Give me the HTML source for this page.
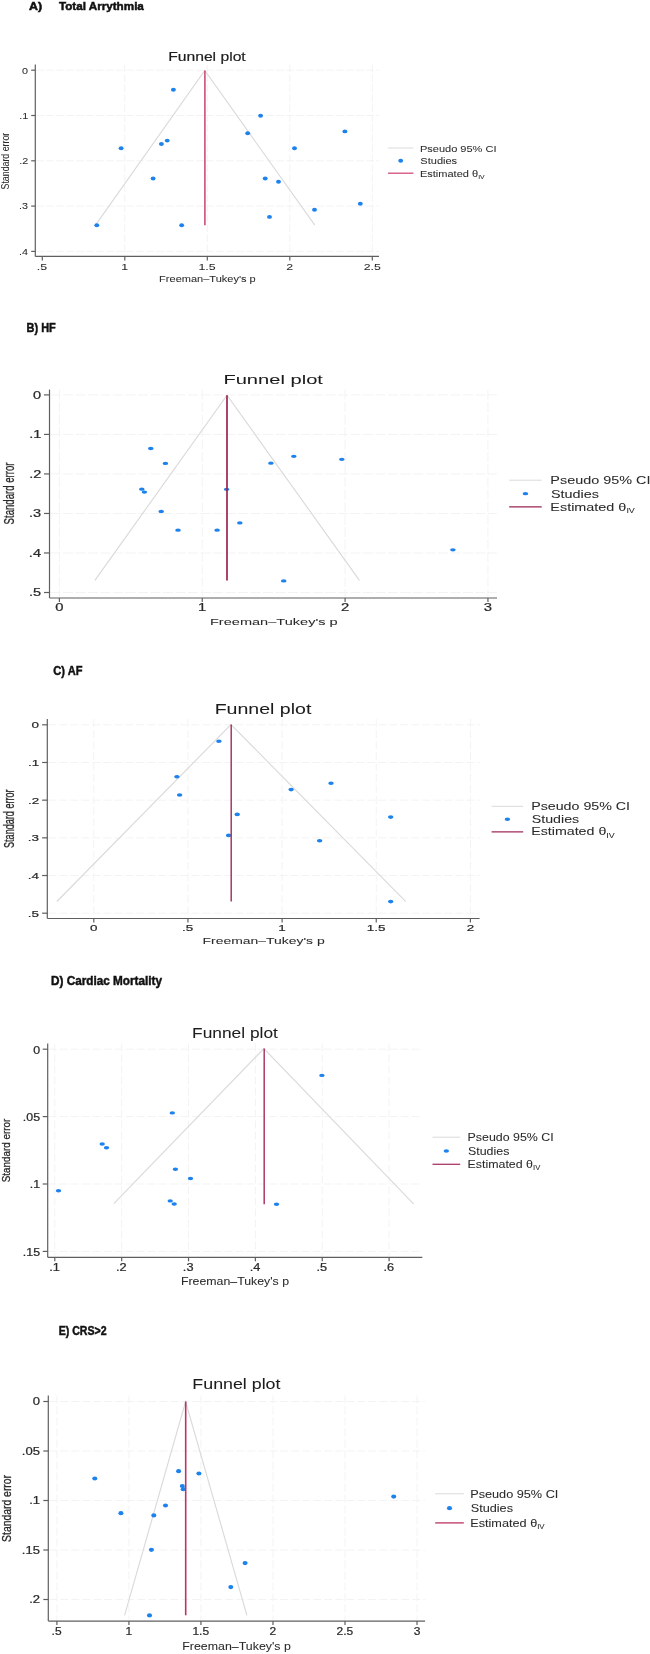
<!DOCTYPE html>
<html><head><meta charset="utf-8"><title>Funnel plots</title>
<style>
html,body{margin:0;padding:0;background:#fff;}
body{width:650px;height:1654px;overflow:hidden;}
svg{display:block;font-family:"Liberation Sans", sans-serif;filter:blur(0.6px);}
text{stroke:#2a2a2a;stroke-width:0.05px;}
text.tl{stroke-width:0.22px;}
text.yt{stroke-width:0.3px;}
.pA text{stroke-width:0.05px;}
text.hd{stroke:#111;stroke-width:0.5px;}
.pA text.ti{stroke-width:0.2px;}
</style></head><body>
<svg width="650" height="1654" viewBox="0 0 650 1654">
<rect width="650" height="1654" fill="#ffffff"/>
<g class="pA">
<text class="hd" transform="translate(28.95,9.80) scale(1.0903,1)" font-size="11.37" font-weight="bold" fill="#111">A)</text>
<text class="hd" transform="translate(58.88,9.80) scale(1.0285,1)" font-size="11.37" font-weight="bold" fill="#111">Total Arrythmia</text>
<text class="ti" transform="translate(168.14,60.60) scale(1.1807,1)" font-size="13.29" fill="#1c1c1c">Funnel plot</text>
<line x1="36.30" y1="70.20" x2="379.00" y2="70.20" stroke="#f3f3f3" stroke-width="1" stroke-dasharray="7.5 2.5"/>
<line x1="36.30" y1="115.50" x2="379.00" y2="115.50" stroke="#f3f3f3" stroke-width="1" stroke-dasharray="7.5 2.5"/>
<line x1="36.30" y1="160.80" x2="379.00" y2="160.80" stroke="#f3f3f3" stroke-width="1" stroke-dasharray="7.5 2.5"/>
<line x1="36.30" y1="206.10" x2="379.00" y2="206.10" stroke="#f3f3f3" stroke-width="1" stroke-dasharray="7.5 2.5"/>
<line x1="36.30" y1="251.40" x2="379.00" y2="251.40" stroke="#f3f3f3" stroke-width="1" stroke-dasharray="7.5 2.5"/>
<line x1="124.80" y1="64.60" x2="124.80" y2="255.40" stroke="#f3f3f3" stroke-width="1" stroke-dasharray="7.5 2.5"/>
<line x1="207.30" y1="64.60" x2="207.30" y2="255.40" stroke="#f3f3f3" stroke-width="1" stroke-dasharray="7.5 2.5"/>
<line x1="289.80" y1="64.60" x2="289.80" y2="255.40" stroke="#f3f3f3" stroke-width="1" stroke-dasharray="7.5 2.5"/>
<line x1="372.30" y1="64.60" x2="372.30" y2="255.40" stroke="#f3f3f3" stroke-width="1" stroke-dasharray="7.5 2.5"/>
<polyline points="95.50,225.20 204.80,70.50 314.80,225.20" fill="none" stroke="#dadada" stroke-width="1.15"/>
<ellipse cx="173.40" cy="89.80" rx="2.45" ry="1.95" fill="#1e82ec"/>
<ellipse cx="121.10" cy="148.30" rx="2.45" ry="1.95" fill="#1e82ec"/>
<ellipse cx="161.40" cy="144.00" rx="2.45" ry="1.95" fill="#1e82ec"/>
<ellipse cx="167.20" cy="140.60" rx="2.45" ry="1.95" fill="#1e82ec"/>
<ellipse cx="153.10" cy="178.50" rx="2.45" ry="1.95" fill="#1e82ec"/>
<ellipse cx="96.80" cy="225.20" rx="2.45" ry="1.95" fill="#1e82ec"/>
<ellipse cx="181.70" cy="225.20" rx="2.45" ry="1.95" fill="#1e82ec"/>
<ellipse cx="260.60" cy="115.70" rx="2.45" ry="1.95" fill="#1e82ec"/>
<ellipse cx="247.70" cy="133.20" rx="2.45" ry="1.95" fill="#1e82ec"/>
<ellipse cx="344.90" cy="131.40" rx="2.45" ry="1.95" fill="#1e82ec"/>
<ellipse cx="294.50" cy="148.30" rx="2.45" ry="1.95" fill="#1e82ec"/>
<ellipse cx="265.20" cy="178.50" rx="2.45" ry="1.95" fill="#1e82ec"/>
<ellipse cx="278.50" cy="181.80" rx="2.45" ry="1.95" fill="#1e82ec"/>
<ellipse cx="314.50" cy="209.80" rx="2.45" ry="1.95" fill="#1e82ec"/>
<ellipse cx="360.30" cy="203.70" rx="2.45" ry="1.95" fill="#1e82ec"/>
<ellipse cx="269.50" cy="216.90" rx="2.45" ry="1.95" fill="#1e82ec"/>
<line x1="204.90" y1="70.50" x2="204.90" y2="225.20" stroke="#d04c7a" stroke-width="1.6"/>
<line x1="35.30" y1="64.60" x2="35.30" y2="256.40" stroke="#5f5f5f" stroke-width="1.2"/>
<line x1="35.30" y1="256.40" x2="379.00" y2="256.40" stroke="#5f5f5f" stroke-width="1.2"/>
<line x1="31.20" y1="70.20" x2="35.30" y2="70.20" stroke="#5f5f5f" stroke-width="1.2"/>
<text class="tl" transform="translate(22.09,73.59) scale(1.1155,1)" font-size="9.68" fill="#2a2a2a">0</text>
<line x1="31.20" y1="115.50" x2="35.30" y2="115.50" stroke="#5f5f5f" stroke-width="1.2"/>
<text class="tl" transform="translate(19.19,118.84) scale(1.1155,1)" font-size="9.68" fill="#2a2a2a">.1</text>
<line x1="31.20" y1="160.80" x2="35.30" y2="160.80" stroke="#5f5f5f" stroke-width="1.2"/>
<text class="tl" transform="translate(19.19,164.19) scale(1.1155,1)" font-size="9.68" fill="#2a2a2a">.2</text>
<line x1="31.20" y1="206.10" x2="35.30" y2="206.10" stroke="#5f5f5f" stroke-width="1.2"/>
<text class="tl" transform="translate(19.08,209.49) scale(1.1155,1)" font-size="9.68" fill="#2a2a2a">.3</text>
<line x1="31.20" y1="251.40" x2="35.30" y2="251.40" stroke="#5f5f5f" stroke-width="1.2"/>
<text class="tl" transform="translate(18.98,254.79) scale(1.1155,1)" font-size="9.68" fill="#2a2a2a">.4</text>
<line x1="42.30" y1="256.40" x2="42.30" y2="260.40" stroke="#5f5f5f" stroke-width="1.2"/>
<text class="tl" transform="translate(36.82,270.00) scale(1.2610,1)" font-size="9.79" fill="#2a2a2a">.5</text>
<line x1="124.80" y1="256.40" x2="124.80" y2="260.40" stroke="#5f5f5f" stroke-width="1.2"/>
<text class="tl" transform="translate(121.22,270.00) scale(1.2610,1)" font-size="9.79" fill="#2a2a2a">1</text>
<line x1="207.30" y1="256.40" x2="207.30" y2="260.40" stroke="#5f5f5f" stroke-width="1.2"/>
<text class="tl" transform="translate(198.51,270.00) scale(1.2610,1)" font-size="9.79" fill="#2a2a2a">1.5</text>
<line x1="289.80" y1="256.40" x2="289.80" y2="260.40" stroke="#5f5f5f" stroke-width="1.2"/>
<text class="tl" transform="translate(286.34,270.00) scale(1.2610,1)" font-size="9.79" fill="#2a2a2a">2</text>
<line x1="372.30" y1="256.40" x2="372.30" y2="260.40" stroke="#5f5f5f" stroke-width="1.2"/>
<text class="tl" transform="translate(363.63,270.00) scale(1.2610,1)" font-size="9.79" fill="#2a2a2a">2.5</text>
<text class="yt" transform="translate(9.30,189.45) rotate(-90) scale(0.7651,1)" font-size="11.51" fill="#2a2a2a">Standard error</text>
<text transform="translate(159.12,282.30) scale(1.1336,1)" font-size="9.73" fill="#2a2a2a">Freeman–Tukey's p</text>
<line x1="388.00" y1="148.00" x2="413.40" y2="148.00" stroke="#dadada" stroke-width="1"/>
<ellipse cx="400.70" cy="160.70" rx="2.45" ry="1.95" fill="#1e82ec"/>
<line x1="388.00" y1="173.20" x2="413.40" y2="173.20" stroke="#d04c7a" stroke-width="1.3"/>
<text transform="translate(419.92,151.60) scale(1.1500,1)" font-size="9.60" fill="#2a2a2a">Pseudo 95% CI</text>
<text transform="translate(420.36,164.30) scale(1.1500,1)" font-size="9.60" fill="#2a2a2a">Studies</text>
<text transform="translate(419.92,176.80) scale(1.1500,1)" font-size="9.60" fill="#2a2a2a">Estimated θ<tspan font-size="5.95" dy="2.11">IV</tspan></text>
</g>
<g class="pB">
<text class="hd" transform="translate(26.54,331.90) scale(0.8689,1)" font-size="12.60" font-weight="bold" fill="#111">B) HF</text>
<text class="ti" transform="translate(223.39,383.70) scale(1.5145,1)" font-size="13.29" fill="#1c1c1c">Funnel plot</text>
<line x1="50.50" y1="394.90" x2="497.00" y2="394.90" stroke="#f3f3f3" stroke-width="1" stroke-dasharray="10 2.5"/>
<line x1="50.50" y1="434.42" x2="497.00" y2="434.42" stroke="#f3f3f3" stroke-width="1" stroke-dasharray="10 2.5"/>
<line x1="50.50" y1="473.94" x2="497.00" y2="473.94" stroke="#f3f3f3" stroke-width="1" stroke-dasharray="10 2.5"/>
<line x1="50.50" y1="513.46" x2="497.00" y2="513.46" stroke="#f3f3f3" stroke-width="1" stroke-dasharray="10 2.5"/>
<line x1="50.50" y1="552.98" x2="497.00" y2="552.98" stroke="#f3f3f3" stroke-width="1" stroke-dasharray="10 2.5"/>
<line x1="50.50" y1="592.50" x2="497.00" y2="592.50" stroke="#f3f3f3" stroke-width="1" stroke-dasharray="10 2.5"/>
<line x1="59.40" y1="389.60" x2="59.40" y2="597.00" stroke="#f3f3f3" stroke-width="1" stroke-dasharray="10 2.5"/>
<line x1="202.25" y1="389.60" x2="202.25" y2="597.00" stroke="#f3f3f3" stroke-width="1" stroke-dasharray="10 2.5"/>
<line x1="345.10" y1="389.60" x2="345.10" y2="597.00" stroke="#f3f3f3" stroke-width="1" stroke-dasharray="10 2.5"/>
<line x1="487.95" y1="389.60" x2="487.95" y2="597.00" stroke="#f3f3f3" stroke-width="1" stroke-dasharray="10 2.5"/>
<polyline points="94.90,580.30 227.00,395.20 359.40,580.30" fill="none" stroke="#dadada" stroke-width="1.15"/>
<ellipse cx="150.80" cy="448.50" rx="2.8" ry="1.65" fill="#1e82ec"/>
<ellipse cx="165.40" cy="463.40" rx="2.8" ry="1.65" fill="#1e82ec"/>
<ellipse cx="141.80" cy="489.20" rx="2.8" ry="1.65" fill="#1e82ec"/>
<ellipse cx="144.40" cy="492.10" rx="2.8" ry="1.65" fill="#1e82ec"/>
<ellipse cx="226.60" cy="489.30" rx="2.8" ry="1.65" fill="#1e82ec"/>
<ellipse cx="161.20" cy="511.50" rx="2.8" ry="1.65" fill="#1e82ec"/>
<ellipse cx="178.00" cy="530.20" rx="2.8" ry="1.65" fill="#1e82ec"/>
<ellipse cx="217.10" cy="530.20" rx="2.8" ry="1.65" fill="#1e82ec"/>
<ellipse cx="239.80" cy="522.90" rx="2.8" ry="1.65" fill="#1e82ec"/>
<ellipse cx="270.90" cy="463.20" rx="2.8" ry="1.65" fill="#1e82ec"/>
<ellipse cx="293.80" cy="456.30" rx="2.8" ry="1.65" fill="#1e82ec"/>
<ellipse cx="341.80" cy="459.30" rx="2.8" ry="1.65" fill="#1e82ec"/>
<ellipse cx="283.70" cy="580.90" rx="2.8" ry="1.65" fill="#1e82ec"/>
<ellipse cx="452.90" cy="549.80" rx="2.8" ry="1.65" fill="#1e82ec"/>
<line x1="227.00" y1="395.20" x2="227.00" y2="580.50" stroke="#9a2452" stroke-width="1.7"/>
<line x1="49.50" y1="389.60" x2="49.50" y2="598.00" stroke="#5f5f5f" stroke-width="1.2"/>
<line x1="49.50" y1="598.00" x2="497.00" y2="598.00" stroke="#5f5f5f" stroke-width="1.2"/>
<line x1="44.00" y1="394.90" x2="49.50" y2="394.90" stroke="#5f5f5f" stroke-width="1.2"/>
<text class="tl" transform="translate(33.04,398.60) scale(1.3774,1)" font-size="10.56" fill="#2a2a2a">0</text>
<line x1="44.00" y1="434.42" x2="49.50" y2="434.42" stroke="#5f5f5f" stroke-width="1.2"/>
<text class="tl" transform="translate(29.14,438.06) scale(1.3774,1)" font-size="10.56" fill="#2a2a2a">.1</text>
<line x1="44.00" y1="473.94" x2="49.50" y2="473.94" stroke="#5f5f5f" stroke-width="1.2"/>
<text class="tl" transform="translate(29.14,477.64) scale(1.3774,1)" font-size="10.56" fill="#2a2a2a">.2</text>
<line x1="44.00" y1="513.46" x2="49.50" y2="513.46" stroke="#5f5f5f" stroke-width="1.2"/>
<text class="tl" transform="translate(29.00,517.16) scale(1.3774,1)" font-size="10.56" fill="#2a2a2a">.3</text>
<line x1="44.00" y1="552.98" x2="49.50" y2="552.98" stroke="#5f5f5f" stroke-width="1.2"/>
<text class="tl" transform="translate(28.85,556.68) scale(1.3774,1)" font-size="10.56" fill="#2a2a2a">.4</text>
<line x1="44.00" y1="592.50" x2="49.50" y2="592.50" stroke="#5f5f5f" stroke-width="1.2"/>
<text class="tl" transform="translate(29.00,596.14) scale(1.3774,1)" font-size="10.56" fill="#2a2a2a">.5</text>
<line x1="59.40" y1="598.00" x2="59.40" y2="602.00" stroke="#5f5f5f" stroke-width="1.2"/>
<text class="tl" transform="translate(55.32,610.60) scale(1.3774,1)" font-size="10.78" fill="#2a2a2a">0</text>
<line x1="202.25" y1="598.00" x2="202.25" y2="602.00" stroke="#5f5f5f" stroke-width="1.2"/>
<text class="tl" transform="translate(197.94,610.60) scale(1.3774,1)" font-size="10.78" fill="#2a2a2a">1</text>
<line x1="345.10" y1="598.00" x2="345.10" y2="602.00" stroke="#5f5f5f" stroke-width="1.2"/>
<text class="tl" transform="translate(340.94,610.60) scale(1.3774,1)" font-size="10.78" fill="#2a2a2a">2</text>
<line x1="487.95" y1="598.00" x2="487.95" y2="602.00" stroke="#5f5f5f" stroke-width="1.2"/>
<text class="tl" transform="translate(483.87,610.60) scale(1.3774,1)" font-size="10.78" fill="#2a2a2a">3</text>
<text class="yt" transform="translate(14.30,524.38) rotate(-90) scale(0.6940,1)" font-size="13.84" fill="#2a2a2a">Standard error</text>
<text transform="translate(209.93,625.00) scale(1.5211,1)" font-size="9.59" fill="#2a2a2a">Freeman–Tukey's p</text>
<line x1="509.20" y1="480.20" x2="541.70" y2="480.20" stroke="#dadada" stroke-width="1"/>
<ellipse cx="525.45" cy="493.70" rx="2.8" ry="1.65" fill="#1e82ec"/>
<line x1="509.20" y1="506.80" x2="541.70" y2="506.80" stroke="#9a2452" stroke-width="1.3"/>
<text transform="translate(550.35,484.00) scale(1.3350,1)" font-size="10.80" fill="#2a2a2a">Pseudo 95% CI</text>
<text transform="translate(550.92,497.50) scale(1.3350,1)" font-size="10.80" fill="#2a2a2a">Studies</text>
<text transform="translate(550.35,510.60) scale(1.3350,1)" font-size="10.80" fill="#2a2a2a">Estimated θ<tspan font-size="6.70" dy="2.38">IV</tspan></text>
</g>
<g class="pC">
<text class="hd" transform="translate(53.36,675.20) scale(0.8238,1)" font-size="13.42" font-weight="bold" fill="#111">C) AF</text>
<text class="ti" transform="translate(214.63,714.20) scale(1.3351,1)" font-size="14.66" fill="#1c1c1c">Funnel plot</text>
<line x1="48.30" y1="724.80" x2="479.60" y2="724.80" stroke="#f3f3f3" stroke-width="1" stroke-dasharray="8 3"/>
<line x1="48.30" y1="762.48" x2="479.60" y2="762.48" stroke="#f3f3f3" stroke-width="1" stroke-dasharray="8 3"/>
<line x1="48.30" y1="800.16" x2="479.60" y2="800.16" stroke="#f3f3f3" stroke-width="1" stroke-dasharray="8 3"/>
<line x1="48.30" y1="837.84" x2="479.60" y2="837.84" stroke="#f3f3f3" stroke-width="1" stroke-dasharray="8 3"/>
<line x1="48.30" y1="875.52" x2="479.60" y2="875.52" stroke="#f3f3f3" stroke-width="1" stroke-dasharray="8 3"/>
<line x1="48.30" y1="913.20" x2="479.60" y2="913.20" stroke="#f3f3f3" stroke-width="1" stroke-dasharray="8 3"/>
<line x1="93.80" y1="719.00" x2="93.80" y2="917.50" stroke="#f3f3f3" stroke-width="1" stroke-dasharray="8 3"/>
<line x1="187.95" y1="719.00" x2="187.95" y2="917.50" stroke="#f3f3f3" stroke-width="1" stroke-dasharray="8 3"/>
<line x1="282.10" y1="719.00" x2="282.10" y2="917.50" stroke="#f3f3f3" stroke-width="1" stroke-dasharray="8 3"/>
<line x1="376.25" y1="719.00" x2="376.25" y2="917.50" stroke="#f3f3f3" stroke-width="1" stroke-dasharray="8 3"/>
<line x1="470.40" y1="719.00" x2="470.40" y2="917.50" stroke="#f3f3f3" stroke-width="1" stroke-dasharray="8 3"/>
<polyline points="56.90,901.50 231.00,724.50 405.80,901.60" fill="none" stroke="#dadada" stroke-width="1.15"/>
<ellipse cx="218.90" cy="741.20" rx="2.75" ry="1.8" fill="#1e82ec"/>
<ellipse cx="176.90" cy="776.70" rx="2.75" ry="1.8" fill="#1e82ec"/>
<ellipse cx="179.60" cy="795.00" rx="2.75" ry="1.8" fill="#1e82ec"/>
<ellipse cx="291.10" cy="789.60" rx="2.75" ry="1.8" fill="#1e82ec"/>
<ellipse cx="331.00" cy="783.20" rx="2.75" ry="1.8" fill="#1e82ec"/>
<ellipse cx="237.20" cy="814.40" rx="2.75" ry="1.8" fill="#1e82ec"/>
<ellipse cx="390.70" cy="817.10" rx="2.75" ry="1.8" fill="#1e82ec"/>
<ellipse cx="228.60" cy="835.40" rx="2.75" ry="1.8" fill="#1e82ec"/>
<ellipse cx="319.60" cy="840.80" rx="2.75" ry="1.8" fill="#1e82ec"/>
<ellipse cx="390.70" cy="901.60" rx="2.75" ry="1.8" fill="#1e82ec"/>
<line x1="231.20" y1="724.50" x2="231.20" y2="901.60" stroke="#a02a5a" stroke-width="1.4"/>
<line x1="47.30" y1="719.00" x2="47.30" y2="918.50" stroke="#5f5f5f" stroke-width="1.2"/>
<line x1="47.30" y1="918.50" x2="479.60" y2="918.50" stroke="#5f5f5f" stroke-width="1.2"/>
<line x1="42.10" y1="724.80" x2="47.30" y2="724.80" stroke="#5f5f5f" stroke-width="1.2"/>
<text class="tl" transform="translate(31.61,728.26) scale(1.3580,1)" font-size="9.90" fill="#2a2a2a">0</text>
<line x1="42.10" y1="762.48" x2="47.30" y2="762.48" stroke="#5f5f5f" stroke-width="1.2"/>
<text class="tl" transform="translate(28.01,765.90) scale(1.3580,1)" font-size="9.90" fill="#2a2a2a">.1</text>
<line x1="42.10" y1="800.16" x2="47.30" y2="800.16" stroke="#5f5f5f" stroke-width="1.2"/>
<text class="tl" transform="translate(28.01,803.62) scale(1.3580,1)" font-size="9.90" fill="#2a2a2a">.2</text>
<line x1="42.10" y1="837.84" x2="47.30" y2="837.84" stroke="#5f5f5f" stroke-width="1.2"/>
<text class="tl" transform="translate(27.87,841.30) scale(1.3580,1)" font-size="9.90" fill="#2a2a2a">.3</text>
<line x1="42.10" y1="875.52" x2="47.30" y2="875.52" stroke="#5f5f5f" stroke-width="1.2"/>
<text class="tl" transform="translate(27.74,878.99) scale(1.3580,1)" font-size="9.90" fill="#2a2a2a">.4</text>
<line x1="42.10" y1="913.20" x2="47.30" y2="913.20" stroke="#5f5f5f" stroke-width="1.2"/>
<text class="tl" transform="translate(27.87,916.62) scale(1.3580,1)" font-size="9.90" fill="#2a2a2a">.5</text>
<line x1="93.80" y1="918.50" x2="93.80" y2="922.50" stroke="#5f5f5f" stroke-width="1.2"/>
<text class="tl" transform="translate(90.10,931.00) scale(1.3580,1)" font-size="9.90" fill="#2a2a2a">0</text>
<line x1="187.95" y1="918.50" x2="187.95" y2="922.50" stroke="#5f5f5f" stroke-width="1.2"/>
<text class="tl" transform="translate(181.98,931.00) scale(1.3580,1)" font-size="9.90" fill="#2a2a2a">.5</text>
<line x1="282.10" y1="918.50" x2="282.10" y2="922.50" stroke="#5f5f5f" stroke-width="1.2"/>
<text class="tl" transform="translate(278.20,931.00) scale(1.3580,1)" font-size="9.90" fill="#2a2a2a">1</text>
<line x1="376.25" y1="918.50" x2="376.25" y2="922.50" stroke="#5f5f5f" stroke-width="1.2"/>
<text class="tl" transform="translate(366.68,931.00) scale(1.3580,1)" font-size="9.90" fill="#2a2a2a">1.5</text>
<line x1="470.40" y1="918.50" x2="470.40" y2="922.50" stroke="#5f5f5f" stroke-width="1.2"/>
<text class="tl" transform="translate(466.64,931.00) scale(1.3580,1)" font-size="9.90" fill="#2a2a2a">2</text>
<text class="yt" transform="translate(13.90,847.96) rotate(-90) scale(0.6085,1)" font-size="14.93" fill="#2a2a2a">Standard error</text>
<text transform="translate(202.48,944.20) scale(1.4759,1)" font-size="9.45" fill="#2a2a2a">Freeman–Tukey's p</text>
<line x1="491.60" y1="806.30" x2="523.20" y2="806.30" stroke="#dadada" stroke-width="1"/>
<ellipse cx="507.40" cy="819.30" rx="2.75" ry="1.8" fill="#1e82ec"/>
<line x1="491.60" y1="831.80" x2="523.20" y2="831.80" stroke="#a02a5a" stroke-width="1.3"/>
<text transform="translate(531.16,809.90) scale(1.3200,1)" font-size="10.80" fill="#2a2a2a">Pseudo 95% CI</text>
<text transform="translate(531.73,822.90) scale(1.3200,1)" font-size="10.80" fill="#2a2a2a">Studies</text>
<text transform="translate(531.16,835.40) scale(1.3200,1)" font-size="10.80" fill="#2a2a2a">Estimated θ<tspan font-size="6.70" dy="2.38">IV</tspan></text>
</g>
<g class="pD">
<text class="hd" transform="translate(50.99,984.60) scale(0.8766,1)" font-size="13.42" font-weight="bold" fill="#111">D) Cardiac Mortality</text>
<text class="ti" transform="translate(192.11,1038.10) scale(1.1728,1)" font-size="14.79" fill="#1c1c1c">Funnel plot</text>
<line x1="48.70" y1="1049.20" x2="422.30" y2="1049.20" stroke="#f3f3f3" stroke-width="1" stroke-dasharray="8 3"/>
<line x1="48.70" y1="1116.60" x2="422.30" y2="1116.60" stroke="#f3f3f3" stroke-width="1" stroke-dasharray="8 3"/>
<line x1="48.70" y1="1184.00" x2="422.30" y2="1184.00" stroke="#f3f3f3" stroke-width="1" stroke-dasharray="8 3"/>
<line x1="48.70" y1="1251.40" x2="422.30" y2="1251.40" stroke="#f3f3f3" stroke-width="1" stroke-dasharray="8 3"/>
<line x1="54.80" y1="1043.50" x2="54.80" y2="1256.30" stroke="#f3f3f3" stroke-width="1" stroke-dasharray="8 3"/>
<line x1="121.66" y1="1043.50" x2="121.66" y2="1256.30" stroke="#f3f3f3" stroke-width="1" stroke-dasharray="8 3"/>
<line x1="188.52" y1="1043.50" x2="188.52" y2="1256.30" stroke="#f3f3f3" stroke-width="1" stroke-dasharray="8 3"/>
<line x1="255.38" y1="1043.50" x2="255.38" y2="1256.30" stroke="#f3f3f3" stroke-width="1" stroke-dasharray="8 3"/>
<line x1="322.24" y1="1043.50" x2="322.24" y2="1256.30" stroke="#f3f3f3" stroke-width="1" stroke-dasharray="8 3"/>
<line x1="389.10" y1="1043.50" x2="389.10" y2="1256.30" stroke="#f3f3f3" stroke-width="1" stroke-dasharray="8 3"/>
<polyline points="113.80,1203.70 263.90,1048.50 413.80,1204.20" fill="none" stroke="#dadada" stroke-width="1.15"/>
<ellipse cx="58.50" cy="1190.80" rx="2.7" ry="1.7" fill="#1e82ec"/>
<ellipse cx="102.20" cy="1144.00" rx="2.7" ry="1.7" fill="#1e82ec"/>
<ellipse cx="106.50" cy="1147.70" rx="2.7" ry="1.7" fill="#1e82ec"/>
<ellipse cx="172.30" cy="1112.90" rx="2.7" ry="1.7" fill="#1e82ec"/>
<ellipse cx="175.40" cy="1169.20" rx="2.7" ry="1.7" fill="#1e82ec"/>
<ellipse cx="190.50" cy="1178.50" rx="2.7" ry="1.7" fill="#1e82ec"/>
<ellipse cx="170.20" cy="1200.90" rx="2.7" ry="1.7" fill="#1e82ec"/>
<ellipse cx="174.20" cy="1204.00" rx="2.7" ry="1.7" fill="#1e82ec"/>
<ellipse cx="321.90" cy="1075.40" rx="2.7" ry="1.7" fill="#1e82ec"/>
<ellipse cx="276.50" cy="1204.20" rx="2.7" ry="1.7" fill="#1e82ec"/>
<line x1="264.20" y1="1048.50" x2="264.20" y2="1204.20" stroke="#ac386a" stroke-width="1.5"/>
<line x1="47.70" y1="1043.50" x2="47.70" y2="1257.30" stroke="#5f5f5f" stroke-width="1.2"/>
<line x1="47.70" y1="1257.30" x2="422.30" y2="1257.30" stroke="#5f5f5f" stroke-width="1.2"/>
<line x1="42.70" y1="1049.20" x2="47.70" y2="1049.20" stroke="#5f5f5f" stroke-width="1.2"/>
<text class="tl" transform="translate(33.17,1053.64) scale(1.2222,1)" font-size="10.12" fill="#2a2a2a">0</text>
<line x1="42.70" y1="1116.60" x2="47.70" y2="1116.60" stroke="#5f5f5f" stroke-width="1.2"/>
<text class="tl" transform="translate(22.85,1121.04) scale(1.2222,1)" font-size="10.12" fill="#2a2a2a">.05</text>
<line x1="42.70" y1="1184.00" x2="47.70" y2="1184.00" stroke="#5f5f5f" stroke-width="1.2"/>
<text class="tl" transform="translate(29.86,1188.39) scale(1.2222,1)" font-size="10.12" fill="#2a2a2a">.1</text>
<line x1="42.70" y1="1251.40" x2="47.70" y2="1251.40" stroke="#5f5f5f" stroke-width="1.2"/>
<text class="tl" transform="translate(22.85,1255.79) scale(1.2222,1)" font-size="10.12" fill="#2a2a2a">.15</text>
<line x1="54.80" y1="1257.30" x2="54.80" y2="1261.30" stroke="#5f5f5f" stroke-width="1.2"/>
<text class="tl" transform="translate(49.20,1271.00) scale(1.2610,1)" font-size="10.12" fill="#2a2a2a">.1</text>
<line x1="121.66" y1="1257.30" x2="121.66" y2="1261.30" stroke="#5f5f5f" stroke-width="1.2"/>
<text class="tl" transform="translate(116.06,1271.00) scale(1.2610,1)" font-size="10.12" fill="#2a2a2a">.2</text>
<line x1="188.52" y1="1257.30" x2="188.52" y2="1261.30" stroke="#5f5f5f" stroke-width="1.2"/>
<text class="tl" transform="translate(182.86,1271.00) scale(1.2610,1)" font-size="10.12" fill="#2a2a2a">.3</text>
<line x1="255.38" y1="1257.30" x2="255.38" y2="1261.30" stroke="#5f5f5f" stroke-width="1.2"/>
<text class="tl" transform="translate(249.65,1271.00) scale(1.2610,1)" font-size="10.12" fill="#2a2a2a">.4</text>
<line x1="322.24" y1="1257.30" x2="322.24" y2="1261.30" stroke="#5f5f5f" stroke-width="1.2"/>
<text class="tl" transform="translate(316.58,1271.00) scale(1.2610,1)" font-size="10.12" fill="#2a2a2a">.5</text>
<line x1="389.10" y1="1257.30" x2="389.10" y2="1261.30" stroke="#5f5f5f" stroke-width="1.2"/>
<text class="tl" transform="translate(383.44,1271.00) scale(1.2610,1)" font-size="10.12" fill="#2a2a2a">.6</text>
<text class="yt" transform="translate(10.00,1182.29) rotate(-90) scale(0.8376,1)" font-size="11.78" fill="#2a2a2a">Standard error</text>
<text transform="translate(180.91,1284.50) scale(1.1867,1)" font-size="10.41" fill="#2a2a2a">Freeman–Tukey's p</text>
<line x1="432.50" y1="1137.20" x2="460.20" y2="1137.20" stroke="#dadada" stroke-width="1"/>
<ellipse cx="446.35" cy="1151.00" rx="2.7" ry="1.7" fill="#1e82ec"/>
<line x1="432.50" y1="1164.30" x2="460.20" y2="1164.30" stroke="#ac386a" stroke-width="1.3"/>
<text transform="translate(467.51,1140.90) scale(1.1600,1)" font-size="10.70" fill="#2a2a2a">Pseudo 95% CI</text>
<text transform="translate(468.00,1154.70) scale(1.1600,1)" font-size="10.70" fill="#2a2a2a">Studies</text>
<text transform="translate(467.51,1168.00) scale(1.1600,1)" font-size="10.70" fill="#2a2a2a">Estimated θ<tspan font-size="6.63" dy="2.35">IV</tspan></text>
</g>
<g class="pE">
<text class="hd" transform="translate(58.77,1334.60) scale(0.8377,1)" font-size="12.60" font-weight="bold" fill="#111">E) CRS&gt;2</text>
<text class="ti" transform="translate(192.37,1388.60) scale(1.2882,1)" font-size="13.84" fill="#1c1c1c">Funnel plot</text>
<line x1="49.30" y1="1401.50" x2="425.10" y2="1401.50" stroke="#f3f3f3" stroke-width="1" stroke-dasharray="8 3"/>
<line x1="49.30" y1="1451.00" x2="425.10" y2="1451.00" stroke="#f3f3f3" stroke-width="1" stroke-dasharray="8 3"/>
<line x1="49.30" y1="1500.50" x2="425.10" y2="1500.50" stroke="#f3f3f3" stroke-width="1" stroke-dasharray="8 3"/>
<line x1="49.30" y1="1550.00" x2="425.10" y2="1550.00" stroke="#f3f3f3" stroke-width="1" stroke-dasharray="8 3"/>
<line x1="49.30" y1="1599.50" x2="425.10" y2="1599.50" stroke="#f3f3f3" stroke-width="1" stroke-dasharray="8 3"/>
<line x1="56.90" y1="1395.50" x2="56.90" y2="1620.10" stroke="#f3f3f3" stroke-width="1" stroke-dasharray="8 3"/>
<line x1="128.93" y1="1395.50" x2="128.93" y2="1620.10" stroke="#f3f3f3" stroke-width="1" stroke-dasharray="8 3"/>
<line x1="200.95" y1="1395.50" x2="200.95" y2="1620.10" stroke="#f3f3f3" stroke-width="1" stroke-dasharray="8 3"/>
<line x1="272.98" y1="1395.50" x2="272.98" y2="1620.10" stroke="#f3f3f3" stroke-width="1" stroke-dasharray="8 3"/>
<line x1="345.00" y1="1395.50" x2="345.00" y2="1620.10" stroke="#f3f3f3" stroke-width="1" stroke-dasharray="8 3"/>
<line x1="417.02" y1="1395.50" x2="417.02" y2="1620.10" stroke="#f3f3f3" stroke-width="1" stroke-dasharray="8 3"/>
<polyline points="124.60,1615.40 185.60,1401.50 246.90,1615.30" fill="none" stroke="#dadada" stroke-width="1.15"/>
<ellipse cx="94.80" cy="1478.50" rx="2.55" ry="2.1" fill="#1e82ec"/>
<ellipse cx="120.90" cy="1513.20" rx="2.55" ry="2.1" fill="#1e82ec"/>
<ellipse cx="153.80" cy="1515.40" rx="2.55" ry="2.1" fill="#1e82ec"/>
<ellipse cx="165.50" cy="1505.50" rx="2.55" ry="2.1" fill="#1e82ec"/>
<ellipse cx="178.60" cy="1471.20" rx="2.55" ry="2.1" fill="#1e82ec"/>
<ellipse cx="198.90" cy="1473.50" rx="2.55" ry="2.1" fill="#1e82ec"/>
<ellipse cx="182.30" cy="1486.00" rx="2.55" ry="2.1" fill="#1e82ec"/>
<ellipse cx="183.20" cy="1489.20" rx="2.55" ry="2.1" fill="#1e82ec"/>
<ellipse cx="151.40" cy="1549.80" rx="2.55" ry="2.1" fill="#1e82ec"/>
<ellipse cx="149.50" cy="1615.40" rx="2.55" ry="2.1" fill="#1e82ec"/>
<ellipse cx="393.70" cy="1496.60" rx="2.55" ry="2.1" fill="#1e82ec"/>
<ellipse cx="245.10" cy="1563.10" rx="2.55" ry="2.1" fill="#1e82ec"/>
<ellipse cx="230.80" cy="1587.10" rx="2.55" ry="2.1" fill="#1e82ec"/>
<line x1="185.70" y1="1401.50" x2="185.70" y2="1615.30" stroke="#bc3462" stroke-width="1.6"/>
<line x1="48.30" y1="1395.50" x2="48.30" y2="1621.10" stroke="#5f5f5f" stroke-width="1.2"/>
<line x1="48.30" y1="1621.10" x2="425.10" y2="1621.10" stroke="#5f5f5f" stroke-width="1.2"/>
<line x1="43.30" y1="1401.50" x2="48.30" y2="1401.50" stroke="#5f5f5f" stroke-width="1.2"/>
<text class="tl" transform="translate(32.72,1405.12) scale(1.2610,1)" font-size="10.34" fill="#2a2a2a">0</text>
<line x1="43.30" y1="1451.00" x2="48.30" y2="1451.00" stroke="#5f5f5f" stroke-width="1.2"/>
<text class="tl" transform="translate(21.85,1454.62) scale(1.2610,1)" font-size="10.34" fill="#2a2a2a">.05</text>
<line x1="43.30" y1="1500.50" x2="48.30" y2="1500.50" stroke="#5f5f5f" stroke-width="1.2"/>
<text class="tl" transform="translate(29.23,1504.07) scale(1.2610,1)" font-size="10.34" fill="#2a2a2a">.1</text>
<line x1="43.30" y1="1550.00" x2="48.30" y2="1550.00" stroke="#5f5f5f" stroke-width="1.2"/>
<text class="tl" transform="translate(21.85,1553.57) scale(1.2610,1)" font-size="10.34" fill="#2a2a2a">.15</text>
<line x1="43.30" y1="1599.50" x2="48.30" y2="1599.50" stroke="#5f5f5f" stroke-width="1.2"/>
<text class="tl" transform="translate(29.23,1603.12) scale(1.2610,1)" font-size="10.34" fill="#2a2a2a">.2</text>
<line x1="56.90" y1="1621.10" x2="56.90" y2="1625.10" stroke="#5f5f5f" stroke-width="1.2"/>
<text class="tl" transform="translate(51.56,1635.20) scale(1.1155,1)" font-size="10.78" fill="#2a2a2a">.5</text>
<line x1="128.93" y1="1621.10" x2="128.93" y2="1625.10" stroke="#5f5f5f" stroke-width="1.2"/>
<text class="tl" transform="translate(125.44,1635.20) scale(1.1155,1)" font-size="10.78" fill="#2a2a2a">1</text>
<line x1="200.95" y1="1621.10" x2="200.95" y2="1625.10" stroke="#5f5f5f" stroke-width="1.2"/>
<text class="tl" transform="translate(192.39,1635.20) scale(1.1155,1)" font-size="10.78" fill="#2a2a2a">1.5</text>
<line x1="272.98" y1="1621.10" x2="272.98" y2="1625.10" stroke="#5f5f5f" stroke-width="1.2"/>
<text class="tl" transform="translate(269.61,1635.20) scale(1.1155,1)" font-size="10.78" fill="#2a2a2a">2</text>
<line x1="345.00" y1="1621.10" x2="345.00" y2="1625.10" stroke="#5f5f5f" stroke-width="1.2"/>
<text class="tl" transform="translate(336.56,1635.20) scale(1.1155,1)" font-size="10.78" fill="#2a2a2a">2.5</text>
<line x1="417.02" y1="1621.10" x2="417.02" y2="1625.10" stroke="#5f5f5f" stroke-width="1.2"/>
<text class="tl" transform="translate(413.72,1635.20) scale(1.1155,1)" font-size="10.78" fill="#2a2a2a">3</text>
<text class="yt" transform="translate(10.80,1541.92) rotate(-90) scale(0.8076,1)" font-size="12.88" fill="#2a2a2a">Standard error</text>
<text transform="translate(182.31,1650.00) scale(1.2378,1)" font-size="10.00" fill="#2a2a2a">Freeman–Tukey's p</text>
<line x1="435.20" y1="1493.80" x2="463.80" y2="1493.80" stroke="#dadada" stroke-width="1"/>
<ellipse cx="449.50" cy="1508.20" rx="2.55" ry="2.1" fill="#1e82ec"/>
<line x1="435.20" y1="1522.90" x2="463.80" y2="1522.90" stroke="#bc3462" stroke-width="1.3"/>
<text transform="translate(470.18,1497.50) scale(1.2100,1)" font-size="10.50" fill="#2a2a2a">Pseudo 95% CI</text>
<text transform="translate(470.69,1511.90) scale(1.2100,1)" font-size="10.50" fill="#2a2a2a">Studies</text>
<text transform="translate(470.18,1526.60) scale(1.2100,1)" font-size="10.50" fill="#2a2a2a">Estimated θ<tspan font-size="6.51" dy="2.31">IV</tspan></text>
</g>
</svg>
</body></html>
